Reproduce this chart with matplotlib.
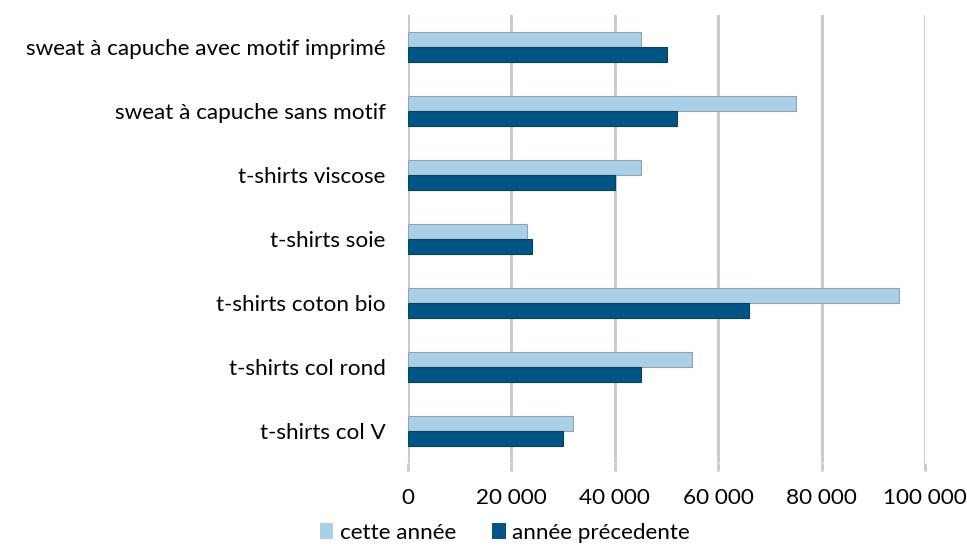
import numpy as np
import matplotlib.pyplot as plt
from matplotlib.ticker import FuncFormatter

categories = ["sweat à capuche avec motif imprimé", "sweat à capuche sans motif",
              "t-shirts viscose", "t-shirts soie", "t-shirts coton bio",
              "t-shirts col rond", "t-shirts col V"]
cette_annee = [45000, 75000, 45000, 23000, 95000, 55000, 32000]
annee_precedente = [50000, 52000, 40000, 24000, 66000, 45000, 30000]
x_ticks = [0, 20000, 40000, 60000, 80000, 100000]

plt.rcParams['font.family'] = ['Lato', 'DejaVu Sans']

fig = plt.figure(figsize=(9.67, 5.47), dpi=100)
ax = fig.add_axes([0.4219, 0.1536, 0.5347, 0.819])

y = np.arange(len(categories))
h = 0.235
ax.barh(y - h/2, cette_annee, height=h, color='#A9D0E6', edgecolor='#8FA3B0', linewidth=0.8,
        label='cette année', zorder=3)
ax.barh(y + h/2, annee_precedente, height=h, color='#005587', edgecolor='#0B3F60', linewidth=0.8,
        label='année précedente', zorder=3)

ax.set_ylim(len(categories) - 0.5, -0.5)
ax.set_xlim(0, 100000)
ax.set_yticks(y)
ax.set_yticklabels(categories, fontsize=16.2)
ax.set_xticks(x_ticks)
ax.xaxis.set_major_formatter(FuncFormatter(lambda v, p: f"{int(v):,}".replace(",", " ")))
ax.tick_params(axis='x', labelsize=16.2, length=6, color='#C8C8C8', width=2, pad=12)
ax.tick_params(axis='y', length=0, pad=16)
ax.grid(axis='x', color='#C8C8C8', linewidth=2, zorder=0)
ax.set_axisbelow(True)
for s in ax.spines.values():
    s.set_visible(False)

leg = fig.legend(loc='center', bbox_to_anchor=(0.522, 0.026), ncol=2, frameon=False,
                 fontsize=16.2, handlelength=0.6, handleheight=0.7, columnspacing=1.6,
                 handletextpad=0.3, borderpad=0)
for p in leg.get_patches():
    p.set_linewidth(0)

fig.savefig('out.png', dpi=100)
